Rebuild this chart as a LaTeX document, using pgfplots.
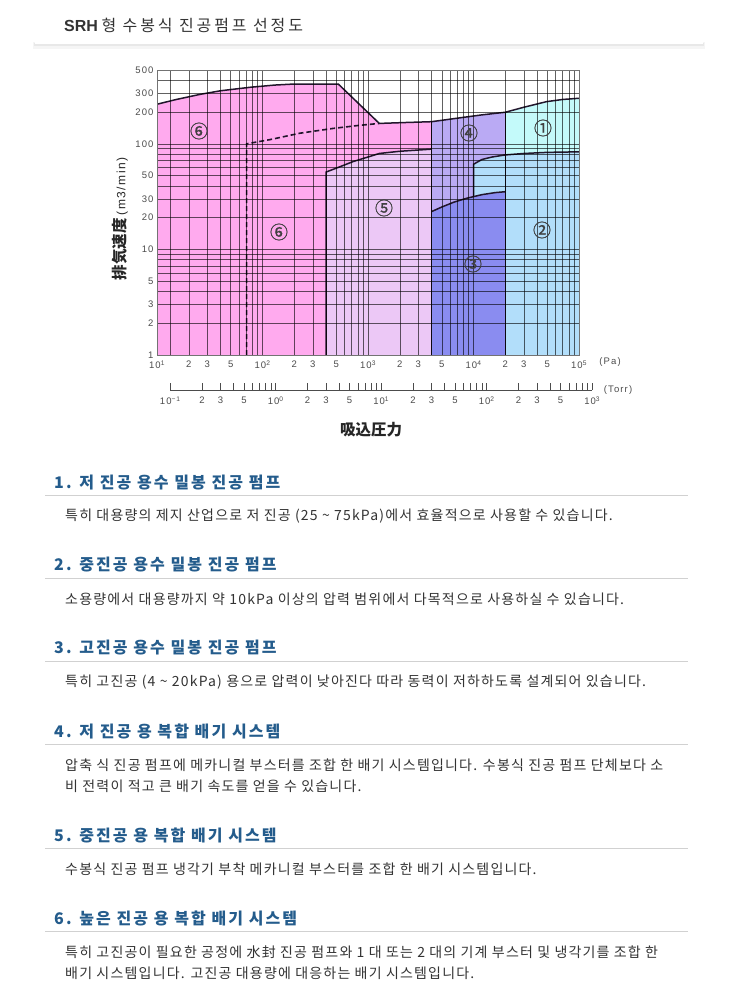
\documentclass[border=0pt]{standalone}
\usepackage{fontspec}
\usepackage{pgfplots}
\pgfplotsset{compat=1.18}
\setmainfont{Noto Sans CJK KR}
\newfontfamily\jp{Noto Sans CJK JP}
\newfontfamily\circf[FakeBold=1]{Noto Sans CJK JP}
\newfontfamily\lat{Liberation Sans}
\newfontfamily\tickf[LetterSpace=12]{Liberation Sans}
\newfontfamily\bodyf[LetterSpace=8.5]{Noto Sans CJK KR}
\newfontfamily\headf[LetterSpace=13]{Noto Sans CJK KR}
\newfontfamily\titlef[LetterSpace=18]{Noto Sans CJK KR}
\definecolor{pinkA}{RGB}{255,170,238}
\definecolor{lavB}{RGB}{236,200,246}
\definecolor{purC}{RGB}{186,170,244}
\definecolor{bluD}{RGB}{138,140,240}
\definecolor{skyE}{RGB}{178,222,250}
\definecolor{cyaF}{RGB}{196,250,250}
\definecolor{edge}{RGB}{34,22,44}
\definecolor{headblue}{RGB}{36,92,140}
\definecolor{txt}{RGB}{51,51,51}
\newcommand\body{\bodyf\fontsize{14bp}{16bp}\selectfont\color{txt}}
\newcommand\head{\headf\fontsize{16bp}{18bp}\selectfont\bfseries\color{headblue}}
\begin{document}
\begin{tikzpicture}
\begin{scope}[x=1bp,y=-1bp]
\path[use as bounding box, fill=white] (0,0) rectangle (738,1000);
% title bar
\fill[black!4] (33,42) rectangle (705,49);
\fill[black!9] (34,43) rectangle (704,46);
\fill[white] (35,0) rectangle (703,44);
\node[anchor=west, text=txt, inner sep=0] at (64,25) {\fontsize{16bp}{18bp}\selectfont{\lat\bfseries SRH} {\titlef 형 수봉식 진공펌프 선정도}};
\end{scope}

% main chart (Pa)
\begin{axis}[
  at={(157bp,-355bp)}, anchor=south west,
  width=422bp, height=285bp, scale only axis,
  xmode=log, ymode=log,
  xmin=10, xmax=100000, ymin=1, ymax=500,
  axis on top,
  axis line style={black!55, line width=0.6bp},
  xtick={10,20,30,50,100,200,300,500,1000,2000,3000,5000,10000,20000,30000,50000,100000},
  xticklabels={10\textsuperscript{1},2,3,5,10\textsuperscript{2},2,3,5,10\textsuperscript{3},2,3,5,10\textsuperscript{4},2,3,5,10\textsuperscript{5}},
  minor xtick={13.33,40,60,70,80,90,400,600,700,800,900,4000,6000,7000,8000,9000,40000,60000,70000,80000,90000},
  ytick={1,2,3,5,10,20,30,50,100,200,300,500},
  yticklabels={1,2,3,5,10,20,30,50,100,200,300,500},
  minor ytick={4,6,7,8,9,40,60,70,80,90,400},
  grid=both,
  major grid style={black, line width=0.5bp, opacity=0.62},
  minor grid style={black, line width=0.5bp, opacity=0.62},
  major tick length=0pt, minor tick length=0pt,
  tick label style={font=\tickf\fontsize{9.5bp}{10bp}\selectfont, text=black!70},
  xticklabel style={yshift=-2bp},
]
% 6: high vacuum composite
\addplot[fill=pinkA, draw=none] coordinates {(10,1) (10,237) (15,262) (25.6,294) (40,318) (76,343) (130,360) (196,368) (523,368) (1280,156) (2200,159) (4000,162) (4000,1)} -- cycle;
% 5: medium vacuum composite
\addplot[fill=lavB, draw=none] coordinates {(400,1) (400,54) (550,61) (726,68) (1000,75) (1280,81) (2000,85) (4000,89) (4000,1)} -- cycle;
% 4: low vacuum composite
\addplot[fill=purC, draw=none] coordinates {(4000,1) (4000,162) (8000,178) (12000,188) (20000,199) (20000,1)} -- cycle;
% 1: low vacuum pump
\addplot[fill=cyaF, draw=none] coordinates {(20000,1) (20000,199) (30000,222) (49400,251) (70000,263) (100000,270) (100000,1)} -- cycle;
% 2: medium vacuum pump
\addplot[fill=skyE, draw=none] coordinates {(10000,1) (10000,64) (12000,71) (15000,75) (20000,78.5) (30000,81) (50000,83) (100000,84) (100000,1)} -- cycle;
% 3: high vacuum pump
\addplot[fill=bluD, draw=none] coordinates {(4000,1) (4000,22.8) (5000,25.2) (6500,28) (8600,30.5) (12000,33) (16000,34.5) (20000,35.2) (20000,1)} -- cycle;
% outlines
\addplot[edge, line width=1.5bp] coordinates {(10,1) (10,237) (15,262) (25.6,294) (40,318) (76,343) (130,360) (196,368) (523,368) (1280,156) (2200,159) (4000,162) (8000,178) (12000,188) (20000,199) (30000,222) (49400,251) (70000,263) (100000,270)};
\addplot[edge, line width=1.5bp] coordinates {(400,1) (400,54) (550,61) (726,68) (1000,75) (1280,81) (2000,85) (4000,89)};
\addplot[edge, line width=1.5bp] coordinates {(4000,1) (4000,162)};
\addplot[edge, line width=1.5bp] coordinates {(4000,22.8) (5000,25.2) (6500,28) (8600,30.5) (12000,33) (16000,34.5) (20000,35.2)};
\addplot[edge, line width=1.5bp] coordinates {(20000,1) (20000,199)};
\addplot[edge, line width=1.5bp] coordinates {(10000,31.8) (10000,64) (12000,71) (15000,75) (20000,78.5) (30000,81) (50000,83) (100000,84)};
\addplot[edge, line width=1.6bp, dash pattern=on 5bp off 3bp] coordinates {(70.8,1) (70.8,100) (120,110) (226,126) (469,140) (800,149) (1280,156)};
\end{axis}

% Torr scale
\begin{axis}[
  at={(170.2bp,-390bp)}, anchor=south west,
  width=422bp, height=20bp, scale only axis,
  xmode=log, xmin=0.1, xmax=1000, ymin=0, ymax=1,
  axis x line*=bottom, axis y line=none,
  xtick={0.1,0.2,0.3,0.5,1,2,3,5,10,20,30,50,100,200,300,500,1000},
  xticklabels={10\textsuperscript{−1},2,3,5,10\textsuperscript{0},2,3,5,10\textsuperscript{1},2,3,5,10\textsuperscript{2},2,3,5,10\textsuperscript{3}},
  minor xtick={0.4,0.6,0.7,0.8,0.9,4,6,7,8,9,40,60,70,80,90,400,600,700,800,900},
  tick align=inside, major tick length=7bp, minor tick length=7bp,
  axis line style={black!70, line width=0.6bp},
  tick style={black!70, line width=0.6bp},
  tick label style={font=\tickf\fontsize{9.5bp}{10bp}\selectfont, text=black!70},
  xticklabel style={yshift=-3bp},
]
\addplot[draw=none] coordinates {(1,0.5)};
\end{axis}

\begin{scope}[x=1bp,y=-1bp]
\node[text=black!70] at (610,362) {\tickf\fontsize{9.5bp}{10bp}\selectfont(Pa)};
\node[text=black!70] at (618,390) {\tickf\fontsize{9.5bp}{10bp}\selectfont(Torr)};
\node[text=black!85] at (371,430) {\jp\bfseries\fontsize{15.5bp}{16bp}\selectfont 吸込圧力};
\node[rotate=90, text=black!85] at (120,219) {{\jp\bfseries\fontsize{15.5bp}{16bp}\selectfont 排気速度}\,\,{\tickf\fontsize{12bp}{12bp}\selectfont(m3/min)}};

% region numbers
\begin{scope}[every node/.style={text=black!75, font=\circf\fontsize{18bp}{18bp}\selectfont}]
\node at (199,131) {⑥};
\node at (279,232) {⑥};
\node at (384,208) {⑤};
\node at (469,133) {④};
\node at (543,128) {①};
\node at (542,230) {②};
\node at (473,264) {③};
\end{scope}

% descriptions
\begin{scope}[every node/.style={anchor=west, inner sep=0}]
\node at (54,483) {\head 1. 저 진공 용수 밀봉 진공 펌프};
\node at (65,516) {\body 특히 대용량의 제지 산업으로 저 진공 (25 \textasciitilde{} 75kPa)에서 효율적으로 사용할 수 있습니다.};
\node at (54,565) {\head 2. 중진공 용수 밀봉 진공 펌프};
\node at (65,599) {\body 소용량에서 대용량까지 약 10kPa 이상의 압력 범위에서 다목적으로 사용하실 수 있습니다.};
\node at (54,648) {\head 3. 고진공 용수 밀봉 진공 펌프};
\node at (65,682) {\body 특히 고진공 (4 \textasciitilde{} 20kPa) 용으로 압력이 낮아진다 따라 동력이 저하하도록 설계되어 있습니다.};
\node at (54,731) {\head 4. 저 진공 용 복합 배기 시스템};
\node at (65,765) {\body 압축 식 진공 펌프에 메카니컬 부스터를 조합 한 배기 시스템입니다. 수봉식 진공 펌프 단체보다 소};
\node at (65,786) {\body 비 전력이 적고 큰 배기 속도를 얻을 수 있습니다.};
\node at (54,835) {\head 5. 중진공 용 복합 배기 시스템};
\node at (65,869) {\body 수봉식 진공 펌프 냉각기 부착 메카니컬 부스터를 조합 한 배기 시스템입니다.};
\node at (54,918) {\head 6. 높은 진공 용 복합 배기 시스템};
\node at (65,952) {\body 특히 고진공이 필요한 공정에 水封 진공 펌프와 1 대 또는 2 대의 기계 부스터 및 냉각기를 조합 한};
\node at (65,973) {\body 배기 시스템입니다. 고진공 대용량에 대응하는 배기 시스템입니다.};
\end{scope}
\foreach \y in {495,578,661,744,848,931}
  \draw[black!18, line width=1bp] (45,\y) -- (688,\y);
\end{scope}
\end{tikzpicture}
\end{document}
